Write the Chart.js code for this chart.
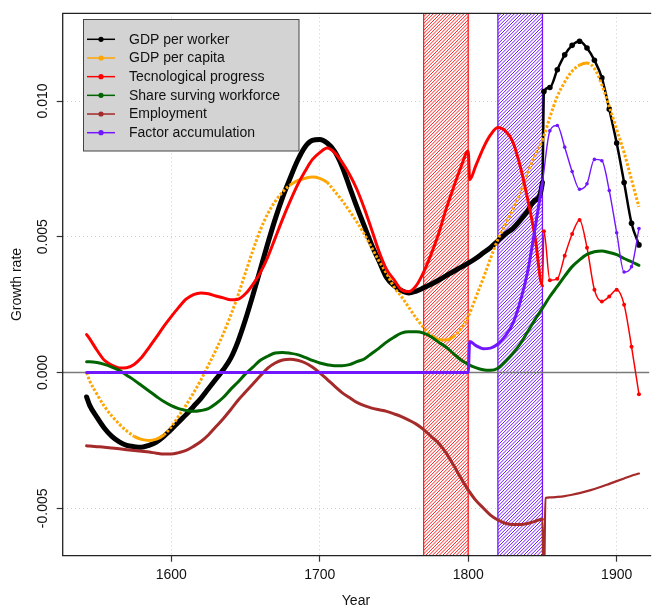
<!DOCTYPE html>
<html>
<head>
<meta charset="utf-8">
<script src="https://cdn.jsdelivr.net/npm/chart.js@4.4.1/dist/chart.umd.min.js"></script>
<style>
  html, body { margin: 0; padding: 0; background: #fff; overflow: hidden; }
  #wrap { position: relative; width: 652px; height: 606px; }
</style>
</head>
<body>
<div id="wrap"><canvas id="growthChart"></canvas></div>
<script>
// years shared by every series (extra points at the 1800 / 1850 breaks)
const years = [1543, 1545, 1550, 1555, 1560, 1565, 1570, 1575, 1580, 1585,
  1590, 1595, 1600, 1605, 1610, 1615, 1620, 1625, 1630, 1635,
  1640, 1645, 1650, 1655, 1660, 1665, 1670, 1675, 1680, 1685,
  1690, 1695, 1700, 1705, 1710, 1715, 1720, 1725, 1730, 1735,
  1740, 1745, 1750, 1755, 1760, 1765, 1770, 1775, 1780, 1785,
  1790, 1795, 1800, 1801, 1805, 1810, 1815, 1820, 1825, 1830,
  1835, 1840, 1845, 1850, 1851, 1852, 1855, 1860, 1865, 1870,
  1875, 1880, 1885, 1890, 1895, 1900, 1905, 1910, 1915];

const gdpPerWorker = [-0.00090, -0.00120, -0.00165, -0.00205, -0.00235, -0.00255, -0.00268, -0.00273, -0.00275, -0.00268,
  -0.00256, -0.00235, -0.00210, -0.00182, -0.00155, -0.00125, -0.00095, -0.00060, -0.00025, 0.00010,
  0.00052, 0.00115, 0.00195, 0.00285, 0.00380, 0.00475, 0.00565, 0.00645, 0.00715, 0.00780,
  0.00830, 0.00855, 0.00858, 0.00845, 0.00815, 0.00760, 0.00685, 0.00610, 0.00540, 0.00470,
  0.00410, 0.00350, 0.00320, 0.00302, 0.00293, 0.00300, 0.00312, 0.00325, 0.00340, 0.00356,
  0.00372, 0.00387, 0.00403, null, 0.00420, 0.00440, 0.00460, 0.00485, 0.00510, 0.00530,
  0.00560, 0.00595, 0.00635, 0.00700, 0.01035, null, 0.01050, 0.01115, 0.01170, 0.01205,
  0.01220, 0.01195, 0.01150, 0.01085, 0.00970, 0.00845, 0.00700, 0.00550, 0.00470];

const gdpPerCapita = [0.00000, -0.00030, -0.00080, -0.00125, -0.00160, -0.00190, -0.00215, -0.00235, -0.00246, -0.00250,
  -0.00245, -0.00230, -0.00200, -0.00160, -0.00120, -0.00075, -0.00027, 0.00027, 0.00082, 0.00142,
  0.00210, 0.00285, 0.00368, 0.00450, 0.00525, 0.00585, 0.00630, 0.00665, 0.00690, 0.00707,
  0.00715, 0.00720, 0.00715, 0.00700, 0.00668, 0.00634, 0.00595, 0.00555, 0.00510, 0.00460,
  0.00410, 0.00365, 0.00315, 0.00280, 0.00240, 0.00200, 0.00165, 0.00138, 0.00122, 0.00120,
  0.00132, 0.00160, 0.00206, null, 0.00275, 0.00345, 0.00420, 0.00490, 0.00545, 0.00600,
  0.00660, 0.00735, 0.00800, 0.00855, null, null, 0.00940, 0.01017, 0.01070, 0.01110,
  0.01132, 0.01140, 0.01120, 0.01060, 0.00980, 0.00895, 0.00810, 0.00710, 0.00610];

const techProgress = [0.00140, 0.00125, 0.00082, 0.00045, 0.00027, 0.00017, 0.00018, 0.00030, 0.00055, 0.00092,
  0.00130, 0.00170, 0.00206, 0.00240, 0.00270, 0.00287, 0.00293, 0.00290, 0.00282, 0.00275,
  0.00268, 0.00270, 0.00290, 0.00325, 0.00368, 0.00425, 0.00495, 0.00565, 0.00630, 0.00690,
  0.00740, 0.00784, 0.00810, 0.00827, 0.00810, 0.00775, 0.00730, 0.00675, 0.00605, 0.00526,
  0.00445, 0.00380, 0.00342, 0.00305, 0.00298, 0.00320, 0.00370, 0.00435, 0.00510, 0.00600,
  0.00680, 0.00755, 0.00815, 0.00710, 0.00760, 0.00825, 0.00875, 0.00902, 0.00890, 0.00850,
  0.00760, 0.00640, 0.00500, 0.00320, 0.00520, null, 0.00340, 0.00345, 0.00430, 0.00510,
  0.00562, 0.00460, 0.00305, 0.00262, 0.00280, 0.00305, 0.00250, 0.00095, -0.00080];

const shareSurviving = [0.00040, 0.00040, 0.00037, 0.00030, 0.00020, 0.00008, -0.00010, -0.00028, -0.00048, -0.00068,
  -0.00088, -0.00107, -0.00122, -0.00133, -0.00140, -0.00143, -0.00140, -0.00133, -0.00115, -0.00092,
  -0.00062, -0.00035, -0.00005, 0.00020, 0.00045, 0.00060, 0.00072, 0.00074, 0.00071, 0.00066,
  0.00056, 0.00045, 0.00035, 0.00029, 0.00025, 0.00025, 0.00029, 0.00040, 0.00050, 0.00070,
  0.00090, 0.00112, 0.00130, 0.00145, 0.00150, 0.00150, 0.00145, 0.00132, 0.00112, 0.00094,
  0.00070, 0.00047, 0.00030, null, 0.00018, 0.00010, 0.00008, 0.00016, 0.00040, 0.00070,
  0.00105, 0.00150, 0.00195, 0.00237, null, null, 0.00280, 0.00317, 0.00355, 0.00390,
  0.00415, 0.00435, 0.00445, 0.00448, 0.00442, 0.00434, 0.00420, 0.00408, 0.00395];

const employment = [-0.00270, -0.00271, -0.00273, -0.00275, -0.00278, -0.00281, -0.00284, -0.00287, -0.00290, -0.00293,
  -0.00297, -0.00300, -0.00300, -0.00295, -0.00287, -0.00272, -0.00254, -0.00230, -0.00200, -0.00170,
  -0.00137, -0.00102, -0.00072, -0.00042, -0.00012, 0.00016, 0.00035, 0.00046, 0.00049, 0.00045,
  0.00036, 0.00020, -0.00001, -0.00025, -0.00050, -0.00074, -0.00092, -0.00110, -0.00122, -0.00131,
  -0.00137, -0.00143, -0.00152, -0.00162, -0.00175, -0.00190, -0.00210, -0.00235, -0.00260, -0.00295,
  -0.00340, -0.00388, -0.00432, null, -0.00470, -0.00498, -0.00525, -0.00543, -0.00555, -0.00560,
  -0.00560, -0.00556, -0.00548, -0.00540, -0.00800, -0.00462, -0.00460, -0.00458, -0.00455, -0.00450,
  -0.00444, -0.00437, -0.00429, -0.00420, -0.00410, -0.00400, -0.00390, -0.00380, -0.00372];

const factorAccum = [0, 0, 0, 0, 0, 0, 0, 0, 0, 0,
  0, 0, 0, 0, 0, 0, 0, 0, 0, 0,
  0, 0, 0, 0, 0, 0, 0, 0, 0, 0,
  0, 0, 0, 0, 0, 0, 0, 0, 0, 0,
  0, 0, 0, 0, 0, 0, 0, 0, 0, 0,
  0, 0, 0, 0.00114, 0.00100, 0.00088, 0.00090, 0.00105, 0.00135, 0.00180,
  0.00260, 0.00370, 0.00530, 0.00700, null, null, 0.00890, 0.00910, 0.00830, 0.00740,
  0.00675, 0.00695, 0.00785, 0.00780, 0.00670, 0.00515, 0.00370, 0.00390, 0.00530];

const seriesNames = ['GDP per worker', 'GDP per capita', 'Tecnological progress',
  'Share surving workforce', 'Employment', 'Factor accumulation'];

// shaded periods
const bandStart = [1770, 1820];
const bandEnd = [1800, 1850];

const xTicks = [1600, 1700, 1800, 1900];
const yTicks = [-0.005, 0, 0.005, 0.01];
const yTickLabels = ['-0.005', '0.000', '0.005', '0.010'];

// styles
const seriesColors = ['#000000', '#ffa500', '#ff0000', '#006400', '#a52a2a', '#7216ff'];
const bandColors = ['#ff2020', '#7216ff'];
const fontFamily = '"Liberation Sans", Arial, Helvetica, sans-serif';
const breakYear = 1850;

const late = i => years[i] > breakYear;

function makeSeries(idx, values, wide, thin, dot) {
  return {
    label: seriesNames[idx],
    data: years.map((x, i) => ({ x: x, y: values[i] })),
    borderColor: seriesColors[idx],
    backgroundColor: seriesColors[idx],
    borderWidth: wide,
    pointRadius: ctx => (dot && late(ctx.dataIndex) ? dot : 0),
    pointBorderWidth: 0,
    pointHoverRadius: 0,
    segment: {
      borderWidth: ctx => (late(ctx.p1DataIndex) ? thin : wide)
    },
    order: 6 - idx
  };
}

const capita = makeSeries(1, gdpPerCapita, 3, 3, 0);
// dotted look where the per-capita curve is steep
capita.borderCapStyle = 'butt';
capita.segment.borderDash = ctx =>
  (Math.abs(ctx.p1.y - ctx.p0.y) > 0.7 * (ctx.p1.x - ctx.p0.x) ? [2.6, 1.8] : undefined);

const datasets = [
  makeSeries(0, gdpPerWorker, 5, 2.5, 2.8),
  capita,
  makeSeries(2, techProgress, 3, 1.5, 2),
  makeSeries(3, shareSurviving, 3, 3, 0),
  makeSeries(4, employment, 3, 2.2, 0),
  makeSeries(5, factorAccum, 3, 1.4, 1.8)
];

// hatched bands + zero line under the curves
const backdrop = {
  id: 'backdrop',
  beforeDatasetsDraw(chart) {
    const { ctx, chartArea: a, scales: { x, y } } = chart;
    const h = a.bottom - a.top;
    bandStart.forEach((from, i) => {
      const x0 = x.getPixelForValue(from);
      const x1 = x.getPixelForValue(bandEnd[i]);
      ctx.save();
      ctx.beginPath();
      ctx.rect(x0, a.top, x1 - x0, h);
      ctx.clip();
      ctx.strokeStyle = bandColors[i];
      ctx.lineWidth = 1;
      ctx.beginPath();
      for (let p = x0 - h; p < x1 + 2; p += 3.4) {
        ctx.moveTo(p, a.bottom);
        ctx.lineTo(p + h, a.top);
      }
      ctx.stroke();
      ctx.restore();
      ctx.save();
      ctx.strokeStyle = bandColors[i];
      ctx.lineWidth = 1.3;
      ctx.beginPath();
      ctx.moveTo(x0, a.top); ctx.lineTo(x0, a.bottom);
      ctx.moveTo(x1, a.top); ctx.lineTo(x1, a.bottom);
      ctx.stroke();
      ctx.restore();
    });
    const y0 = y.getPixelForValue(0);
    ctx.save();
    ctx.strokeStyle = '#7a7a7a';
    ctx.lineWidth = 1.6;
    ctx.beginPath();
    ctx.moveTo(a.left, y0);
    ctx.lineTo(a.right, y0);
    ctx.stroke();
    ctx.restore();
  }
};

// box, rotated y labels and the grey legend
const frame = {
  id: 'frame',
  afterDraw(chart) {
    const { ctx, chartArea: a, scales: { y } } = chart;
    ctx.save();
    ctx.strokeStyle = '#222';
    ctx.lineWidth = 1.3;
    ctx.beginPath();
    ctx.moveTo(a.right + 2, a.top);
    ctx.lineTo(a.left, a.top);
    ctx.lineTo(a.left, a.bottom);
    ctx.lineTo(a.right + 2, a.bottom);
    ctx.stroke();

    ctx.fillStyle = '#111';
    ctx.font = '14px ' + fontFamily;
    ctx.textAlign = 'center';
    ctx.textBaseline = 'middle';
    yTicks.forEach((v, i) => {
      ctx.save();
      ctx.translate(43, y.getPixelForValue(v));
      ctx.rotate(-Math.PI / 2);
      ctx.fillText(yTickLabels[i], 0, 0);
      ctx.restore();
    });

    ctx.fillStyle = '#d3d3d3';
    ctx.fillRect(83.5, 19.5, 215.5, 131.5);
    ctx.strokeStyle = '#444';
    ctx.lineWidth = 1;
    ctx.strokeRect(83.5, 19.5, 215.5, 131.5);
    ctx.textAlign = 'left';
    seriesNames.forEach((name, i) => {
      const cy = 39.3 + i * 18.68;
      ctx.strokeStyle = seriesColors[i];
      ctx.lineWidth = 1.5;
      ctx.beginPath();
      ctx.moveTo(87, cy);
      ctx.lineTo(115, cy);
      ctx.stroke();
      ctx.fillStyle = seriesColors[i];
      ctx.beginPath();
      ctx.arc(101, cy, 2.6, 0, Math.PI * 2);
      ctx.fill();
      ctx.fillStyle = '#111';
      ctx.fillText(name, 129, cy + 0.5);
    });
    ctx.restore();
  }
};

new Chart(document.getElementById('growthChart'), {
  type: 'line',
  data: { datasets: datasets },
  options: {
    responsive: true,
    maintainAspectRatio: false,
    animation: false,
    events: [],
    spanGaps: true,
    layout: { padding: { top: 13.3, right: 0, left: 0, bottom: 0 } },
    elements: {
      line: { cubicInterpolationMode: 'monotone', borderCapStyle: 'round', borderJoinStyle: 'round' }
    },
    plugins: {
      legend: { display: false },
      tooltip: { enabled: false }
    },
    scales: {
      x: {
        type: 'linear',
        min: 1526.9,
        max: 1921.9,
        afterBuildTicks: s => { s.ticks = xTicks.map(v => ({ value: v })); },
        afterFit: s => { s.height = 50.3; },
        grid: { color: '#cfcfcf', lineWidth: 1, drawTicks: true, tickLength: 6, tickColor: '#333', tickWidth: 1.2 },
        border: { display: false, dash: [1, 3] },
        ticks: {
          font: { family: fontFamily, size: 14 },
          color: '#111',
          padding: 5,
          maxRotation: 0,
          autoSkip: false,
          callback: v => String(v)
        },
        title: {
          display: true,
          text: 'Year',
          color: '#111',
          font: { family: fontFamily, size: 14, lineHeight: 1.2 },
          padding: { top: 0, bottom: -4 }
        }
      },
      y: {
        type: 'linear',
        min: -0.006746,
        max: 0.01323,
        afterBuildTicks: s => { s.ticks = yTicks.map(v => ({ value: v })); },
        afterFit: s => { s.width = 62.7; },
        grid: { color: '#cfcfcf', lineWidth: 1, drawTicks: true, tickLength: 6, tickColor: '#333', tickWidth: 1.2 },
        border: { display: false, dash: [1, 3] },
        ticks: { display: false },
        title: {
          display: true,
          text: 'Growth rate',
          color: '#111',
          font: { family: fontFamily, size: 14, lineHeight: 1.2 },
          padding: { top: 8.6, bottom: 0 }
        }
      }
    }
  },
  plugins: [backdrop, frame]
});
</script>
</body>
</html>
